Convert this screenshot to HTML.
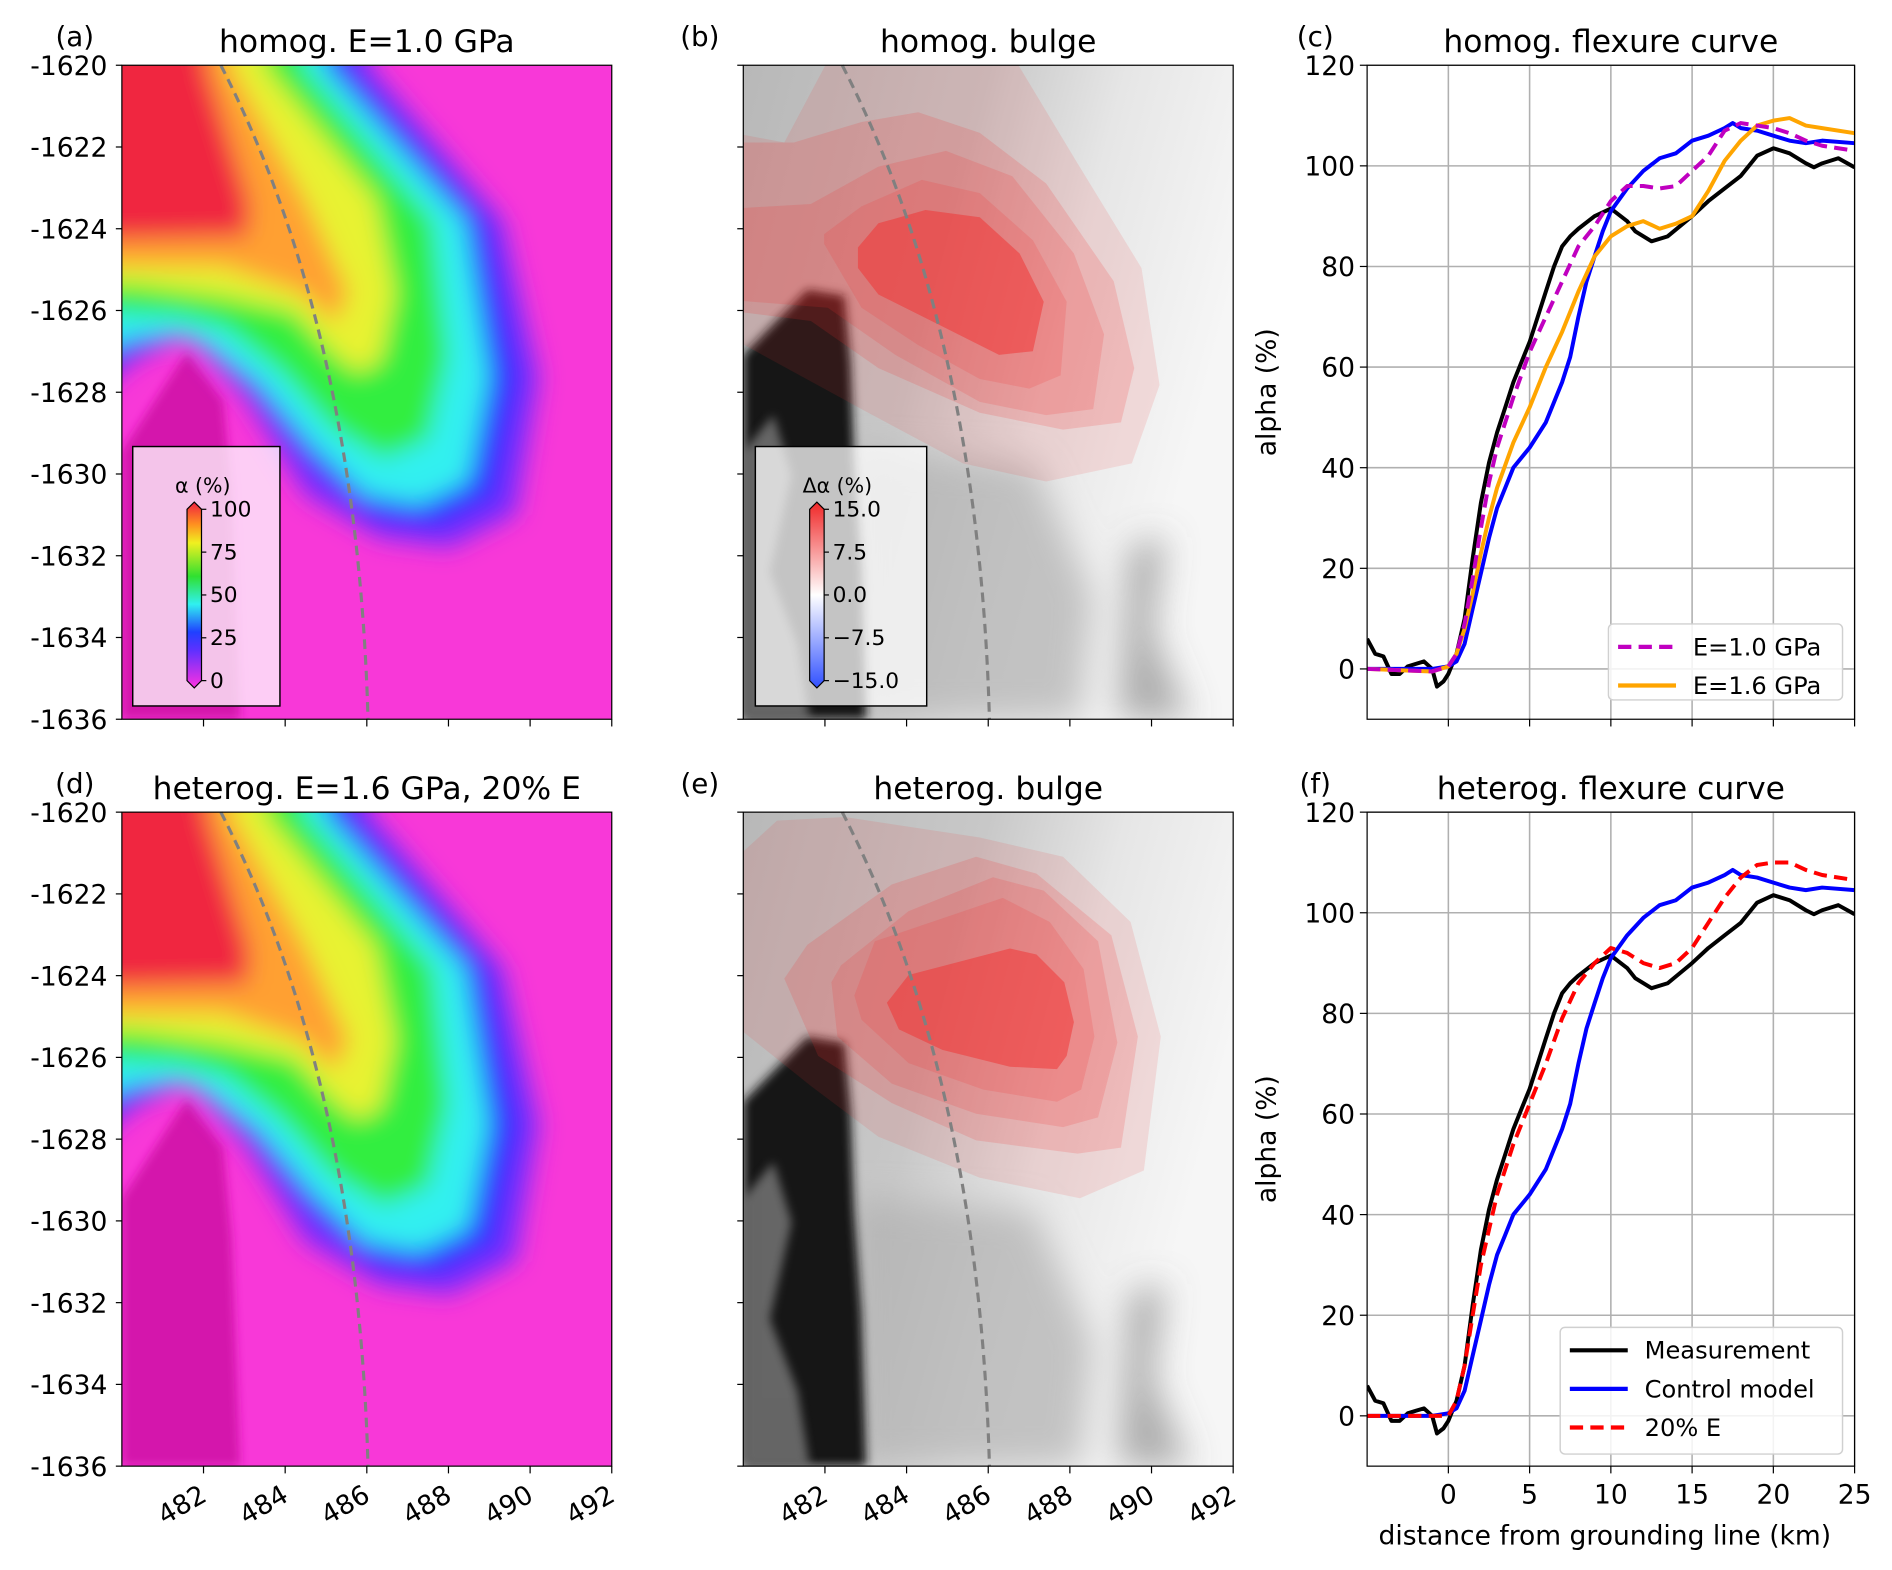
<!DOCTYPE html>
<html><head><meta charset="utf-8">
<style>
html,body{margin:0;padding:0;background:#fff;}
svg{display:block;font-family:"DejaVu Sans","Liberation Sans",sans-serif;}
</style></head>
<body>
<svg id="fig" width="1892" height="1570" viewBox="0 0 1568 1301" xmlns="http://www.w3.org/2000/svg">
<defs>
<filter id="blur" x="-20%" y="-20%" width="140%" height="140%"><feGaussianBlur stdDeviation="10"/></filter>
<filter id="blur2" x="-20%" y="-20%" width="140%" height="140%"><feGaussianBlur stdDeviation="4"/></filter>
<filter id="blur3" x="-20%" y="-20%" width="140%" height="140%"><feGaussianBlur stdDeviation="14"/></filter>
<clipPath id="clipA"><rect x="101" y="54" width="406" height="542"/></clipPath>
<clipPath id="clipB"><rect x="616" y="54" width="406" height="542"/></clipPath>
<clipPath id="clipD"><rect x="101" y="673" width="406" height="542"/></clipPath>
<clipPath id="clipE"><rect x="616" y="673" width="406" height="542"/></clipPath>
<clipPath id="clipC"><rect x="1133" y="54" width="404" height="542"/></clipPath>
<clipPath id="clipF"><rect x="1133" y="673" width="404" height="542"/></clipPath>
<linearGradient id="cbA" x1="0" y1="1" x2="0" y2="0">
<stop offset="0" stop-color="#ff30e0"/><stop offset="0.2" stop-color="#6030ff"/><stop offset="0.3" stop-color="#2040ff"/><stop offset="0.45" stop-color="#30f0f0"/><stop offset="0.6" stop-color="#30e030"/><stop offset="0.78" stop-color="#f0f020"/><stop offset="0.88" stop-color="#ff9020"/><stop offset="1" stop-color="#f02040"/>
</linearGradient>
<linearGradient id="cbB" x1="0" y1="1" x2="0" y2="0">
<stop offset="0" stop-color="#3050ff"/><stop offset="0.5" stop-color="#ffffff"/><stop offset="1" stop-color="#f02828"/>
</linearGradient>
<linearGradient id="grey1" x1="0" y1="0" x2="1" y2="0.35">
<stop offset="0" stop-color="#b8b8b8"/><stop offset="0.45" stop-color="#c8c8c8"/><stop offset="0.7" stop-color="#e6e6e6"/><stop offset="1" stop-color="#f6f6f6"/>
</linearGradient>
</defs>
<g id="maps"></g>
<g id="charts"></g>
</svg>
<script>
// ---------- flexure chart data ----------
const distKm = [-5,-4.5,-4,-3.5,-3,-2.5,-2,-1.5,-1,-0.7,-0.3,0,0.5,1,1.5,2,2.5,3,3.5,4,4.5,5,5.5,6,6.5,7,7.5,8,9,10,11,11.5,12.5,13.5,15,16,17,18,19,20,21,22,22.5,23,24,25];
const measurement = [6,3,2.5,-1,-1,0.5,1,1.5,0,-3.5,-2.5,-1,3,10,22,33,41,47,52,57,61,65,70,75,80,84,86,87.5,90,91.5,89,87,85,86,90,93,95.5,98,102,103.5,102.5,100.5,99.7,100.5,101.5,99.7];
const distCtl = [-5,-1,0,0.5,1,1.5,2,2.5,3,3.5,4,5,6,7,7.5,8,8.5,9,9.5,10,11,12,13,14,15,16,17,17.5,18,19,20,21,22,23,25];
const controlModel = [0,0,0.5,1.5,5,12,19,26,32,36,40,44,49,57,62,70,77,82,87,91,95.5,99,101.5,102.5,105,106,107.5,108.5,107.5,107,106,105,104.5,105,104.5];
const distMod = [-5,-1,0,0.5,1,1.5,2,2.5,3,4,5,6,7,8,9,10,11,12,13,14,15,16,17,18,19,20,21,22,23,25];
const homogE10 = [0,-0.5,0.5,3,9,18,28,37,44,54,63,70,77,84,88,93,96,96,95.5,96,99,102,107,108.5,108,107.5,106.5,105,104,103];
const homogE16 = [0,-0.5,0.5,3,8,15,23,30,36,45,52,60,67,75,82,86,88,89,87.5,88.5,90,95,101,105,108,109,109.5,108,107.5,106.5];
const heterog20 = [0,0,0,3,10,20,30,37,44,54,62,70,79,86,90,93,92,90,89,90,93,98,103,107,109.5,110,110,108.5,107.5,106.5];
const xTicks = [0,5,10,15,20,25];
const yTicks = [0,20,40,60,80,100,120];
const mapXTicks = [482,484,486,488,490,492];
const mapYTicks = [-1620,-1622,-1624,-1626,-1628,-1630,-1632,-1634,-1636];

const NS = "http://www.w3.org/2000/svg";
function mk(tag, attrs, parent, text){
  const e = document.createElementNS(NS, tag);
  for (const k in attrs) e.setAttribute(k, attrs[k]);
  if (text !== undefined) e.textContent = text;
  parent.appendChild(e); return e;
}
const maps = document.getElementById('maps');
const charts = document.getElementById('charts');
function poly(pts, ox, oy){ return pts.map(p=>(ox+p[0])+','+(oy+p[1])).join(' '); }

const alphaLevels = [
 ['#7a2cff', [[-30,-30],[205,-30],[205,0],[316,129],[346,259],[327,372],[272,400],[214,392],[152,356],[102,275],[62,232],[47,226],[10,245],[-30,280]]],
 ['#2a34ff', [[-30,-30],[188,-30],[188,0],[302,129],[330,259],[310,360],[262,384],[210,376],[162,338],[108,268],[66,228],[47,221],[10,235],[-30,262]]],
 ['#30f0f0', [[-30,-30],[168,-30],[168,0],[284,129],[304,259],[287,345],[247,364],[202,356],[158,315],[113,263],[69,230],[47,222],[10,226],[-30,241]]],
 ['#30ee40', [[-30,-30],[150,-30],[150,0],[258,129],[270,241],[254,310],[217,326],[176,302],[132,254],[86,218],[47,208],[10,206],[-30,202]]],
 ['#e8f230', [[-30,-30],[118,-30],[118,0],[210,111],[226,189],[214,245],[195,255],[172,236],[143,204],[84,191],[10,181],[-30,181]]],
 ['#ffa030', [[-30,-30],[90,-30],[90,0],[152,111],[188,189],[176,214],[150,189],[84,167],[-30,166]]],
 ['#f02840', [[-30,-30],[70,-30],[70,0],[106,115],[104,142],[-30,145]]]
];
function drawAlphaMap(ox, oy, clip){
  const g = mk('g', {'clip-path':'url(#'+clip+')'}, maps);
  
  
  mk('rect', {x:ox, y:oy, width:406, height:542, fill:'#f838d8'}, g);
  mk('polygon', {points:poly([[0,320],[54,237],[84,278],[91,352],[98,542],[0,542]],ox,oy), fill:'#d418ac', filter:'url(#blur2)'}, g);
  const bg = mk('g', {filter:'url(#blur)'}, g);
  alphaLevels.forEach(([c,pts])=>{ mk('polygon', {points:poly(pts,ox,oy), fill:c}, bg); });
  return g;
}
const bulgeB = [
 [[-30,52],[34,64],[84,-30],[210,-30],[275,78],[330,168],[345,265],[322,330],[251,345],[182,330],[98,285],[-30,215]],
 [[-30,64],[42,64],[98,47],[145,39],[196,56],[251,98],[307,179],[324,251],[313,296],[265,302],[196,288],[112,251],[56,212],[-30,201]],
 [[-30,120],[56,115],[112,84],[168,71],[223,92],[274,156],[299,223],[290,285],[251,290],[196,279],[126,240],[70,201],[-30,193]],
 [[67,140],[98,117],[148,95],[196,106],[240,145],[268,196],[263,257],[237,268],[196,260],[145,232],[98,201],[67,148]],
 [[95,151],[112,131],[151,120],[196,126],[229,156],[249,196],[240,237],[212,240],[168,218],[112,190],[95,168]]
];
const bulgeE = [
 [[-30,60],[28,7],[84,4],[196,21],[265,37],[321,91],[346,186],[332,297],[279,320],[196,303],[112,269],[56,227],[-30,158]],
 [[34,138],[53,110],[123,60],[193,37],[243,51],[305,102],[327,186],[313,278],[277,283],[193,272],[123,241],[62,202]],
 [[73,141],[81,127],[137,82],[207,54],[249,65],[294,107],[310,191],[294,253],[265,261],[193,250],[123,225],[78,186]],
 [[92,152],[109,107],[165,88],[215,71],[254,91],[282,130],[291,186],[280,230],[260,240],[199,230],[137,208],[98,172]],
 [[119,158],[137,135],[221,113],[243,118],[266,141],[274,174],[268,202],[260,213],[221,211],[165,197],[129,180]]
];
function drawBulgeMap(ox, oy, clip, shapes){
  const g = mk('g', {'clip-path':'url(#'+clip+')'}, maps);
  
  
  mk('rect', {x:ox, y:oy, width:406, height:542, fill:'url(#grey1)'}, g);
  const soft = mk('g', {filter:'url(#blur3)'}, g);
  mk('polygon', {points:poly([[90,320],[240,330],[290,440],[280,542],[90,542]],ox,oy), fill:'#b0b0b0', opacity:0.7}, soft);
  mk('polygon', {points:poly([[320,400],[350,390],[340,470],[370,542],[310,542]],ox,oy), fill:'#666', opacity:0.5}, soft);
  mk('polygon', {points:poly([[0,240],[53,186],[84,191],[89,247],[92,330],[98,415],[102,542],[0,542]],ox,oy), fill:'#161616', filter:'url(#blur2)'}, g);
  mk('polygon', {points:poly([[0,320],[25,290],[40,340],[22,420],[45,480],[55,542],[0,542]],ox,oy), fill:'#888', opacity:0.7, filter:'url(#blur2)'}, g);
  shapes.forEach((pts,i)=>{
    mk('polygon', {points:poly(pts,ox,oy), fill:'#f23030', opacity: i===shapes.length-1 ? 0.5 : (i===0?0.12:0.17)}, g);
  });
  return g;
}
function dashedGL(ox, oy){
  const p = mk('path', {d:`M${ox+82} ${oy} Q${ox+195} ${oy+220} ${ox+204} ${oy+542}`, fill:'none', stroke:'#808080', 'stroke-width':2.6, 'stroke-dasharray':'8,5'}, maps);
  
  
}
function mapAxes(ox, oy, showY, showX, title, label, lx){
  const fr = mk('rect', {x:ox, y:oy, width:406, height:542, fill:'none', stroke:'#000', 'stroke-width':1}, maps);
  
  
  mapYTicks.forEach(v=>{
    const y = oy + (-1620 - v)/16*542;
    mk('line', {x1:ox-5, x2:ox, y1:y, y2:y, stroke:'#000'}, maps);
    if (showY){
      const t = mk('text', {x:ox-12, y:y+8, 'text-anchor':'end', 'font-size':22}, maps, String(v));
      
      
    }
  });
  mapXTicks.forEach(v=>{
    const x = ox + (v-480)/12*406;
    mk('line', {x1:x, x2:x, y1:oy+542, y2:oy+548, stroke:'#000'}, maps);
    if (showX){
      const t = mk('text', {x:x+4, y:oy+570, 'text-anchor':'end', 'font-size':22, transform:`rotate(-30 ${x+4} ${oy+570})`}, maps, String(v));
      
      
    }
  });
  const tt = mk('text', {x:ox+203, y:oy-11, 'text-anchor':'middle', 'font-size':26}, maps, title);
  
  
  const pl = mk('text', {x:lx, y:oy-16, 'text-anchor':'middle', 'font-size':23}, maps, label);
  
  
}
function colorbar(x, y, w, title, grad, ticks){
  const g = mk('g', {}, maps);
  
  
  mk('rect', {x:x, y:y, width:w, height:215, fill:'#ffffff', 'fill-opacity':0.75, stroke:'#000', 'stroke-width':1.2}, g);
  mk('text', {x:x+w*0.5-3, y:y+38, 'text-anchor':'middle', 'font-size':17}, g, title);
  const bx = x+45, by = y+52, bh = 142;
  mk('path', {d:`M${bx} ${by} L${bx+6} ${by-6} L${bx+12} ${by} L${bx+12} ${by+bh} L${bx+6} ${by+bh+6} L${bx} ${by+bh}Z`, fill:'url(#'+grad+')', stroke:'#000', 'stroke-width':1}, g);
  ticks.forEach((t,i)=>{
    const ty = by + bh*(i/(ticks.length-1));
    mk('line', {x1:bx+12, x2:bx+16, y1:ty, y2:ty, stroke:'#000'}, g);
    mk('text', {x:bx+19, y:ty+6, 'font-size':18}, g, t);
  });
}
drawAlphaMap(101,54,'clipA');
dashedGL(101,54);
colorbar(110,370,122,'\u03b1 (%)','cbA',['100','75','50','25','0']);
mapAxes(101,54,true,false,'homog. E=1.0 GPa','(a)',62);

drawBulgeMap(616,54,'clipB',bulgeB);
dashedGL(616,54);
colorbar(626,370,142,'\u0394\u03b1 (%)','cbB',['15.0','7.5','0.0','\u22127.5','\u221215.0']);
mapAxes(616,54,false,false,'homog. bulge','(b)',580);

drawAlphaMap(101,673,'clipD');
dashedGL(101,673);
mapAxes(101,673,true,true,'heterog. E=1.6 GPa, 20% E','(d)',62);

drawBulgeMap(616,673,'clipE',bulgeE);
dashedGL(616,673);
mapAxes(616,673,false,true,'heterog. bulge','(e)',580);

function flexChart(ox, oy, clip, series, title, label, showX, legend){
  const W = 404, H = 542;
  const sx = v => ox + (v+5)/30*W;
  const sy = v => oy + (120 - v)/130*H;
  const g = mk('g', {}, charts);
  
  
  xTicks.forEach(v=>{
    mk('line', {x1:sx(v), x2:sx(v), y1:oy, y2:oy+H, stroke:'#b0b0b0', 'stroke-width':1.3}, g);
    mk('line', {x1:sx(v), x2:sx(v), y1:oy+H, y2:oy+H+6, stroke:'#000'}, g);
    if (showX){
      const t = mk('text', {x:sx(v), y:oy+H+31, 'text-anchor':'middle', 'font-size':22}, g, String(v));
      
      
    }
  });
  yTicks.forEach(v=>{
    mk('line', {x1:ox, x2:ox+W, y1:sy(v), y2:sy(v), stroke:'#b0b0b0', 'stroke-width':1.3}, g);
    mk('line', {x1:ox-6, x2:ox, y1:sy(v), y2:sy(v), stroke:'#000'}, g);
    const t = mk('text', {x:ox-10, y:sy(v)+8, 'text-anchor':'end', 'font-size':22}, g, String(v));
    
    
  });
  const lg = mk('g', {'clip-path':'url(#'+clip+')'}, g);
  series.forEach(s=>{
    const d = s.x.map((xv,i)=>(i?'L':'M')+sx(xv).toFixed(1)+' '+sy(s.y[i]).toFixed(1)).join(' ');
    const p = mk('path', {d:d, fill:'none', stroke:s.color, 'stroke-width':3.3, 'stroke-linejoin':'round'}, lg);
    if (s.dash) p.setAttribute('stroke-dasharray', '11,6');
    
    
  });
  mk('rect', {x:ox, y:oy, width:W, height:H, fill:'none', stroke:'#000', 'stroke-width':1}, g);
  const tt = mk('text', {x:ox+W/2, y:oy-11, 'text-anchor':'middle', 'font-size':26}, g, title);
  
  
  mk('text', {x:ox-43, y:oy-16, 'text-anchor':'middle', 'font-size':23}, g, label);
  const yl = mk('text', {x:ox-76, y:oy+H/2, 'text-anchor':'middle', 'font-size':22, transform:`rotate(-90 ${ox-76} ${oy+H/2})`}, g, 'alpha (%)');
  
  
  if (showX){
    const xl = mk('text', {x:ox+W/2-5, y:oy+H+65, 'text-anchor':'middle', 'font-size':22}, g, 'distance from grounding line (km)');
    
    
  }
  const lgd = mk('g', {}, g);
  
  
  const lw = legend.box[2], lh = legend.box[3];
  mk('rect', {x:legend.box[0], y:legend.box[1], width:lw, height:lh, rx:4, fill:'#fff', 'fill-opacity':0.85, stroke:'#d0d0d0', 'stroke-width':1.2}, lgd);
  legend.items.forEach((it,i)=>{
    const yy = legend.box[1] + 19 + i*32;
    const ln = mk('line', {x1:legend.box[0]+8, x2:legend.box[0]+56, y1:yy, y2:yy, stroke:it.color, 'stroke-width':3.5}, lgd);
    if (it.dash) ln.setAttribute('stroke-dasharray','11,6');
    const t = mk('text', {x:legend.box[0]+70, y:yy+7, 'font-size':20}, lgd, it.label);
    
    
  });
}
flexChart(1133,54,'clipC',[
  {x:distKm, y:measurement, color:'#000', name:'measurement-line'},
  {x:distCtl, y:controlModel, color:'#0000ff', name:'control-model-line'},
  {x:distMod, y:homogE16, color:'#ffa500', name:'e16-line'},
  {x:distMod, y:homogE10, color:'#c000c0', dash:true, name:'e10-line'}
],'homog. flexure curve','(c)',false,{box:[1333,517,194,63],items:[{label:'E=1.0 GPa',color:'#c000c0',dash:true},{label:'E=1.6 GPa',color:'#ffa500'}]});
flexChart(1133,673,'clipF',[
  {x:distKm, y:measurement, color:'#000', name:'measurement-line'},
  {x:distCtl, y:controlModel, color:'#0000ff', name:'control-model-line'},
  {x:distMod, y:heterog20, color:'#ff0000', dash:true, name:'e20pct-line'}
],'heterog. flexure curve','(f)',true,{box:[1293,1100,234,105],items:[{label:'Measurement',color:'#000'},{label:'Control model',color:'#0000ff'},{label:'20% E',color:'#ff0000',dash:true}]});
</script>
</body></html>
